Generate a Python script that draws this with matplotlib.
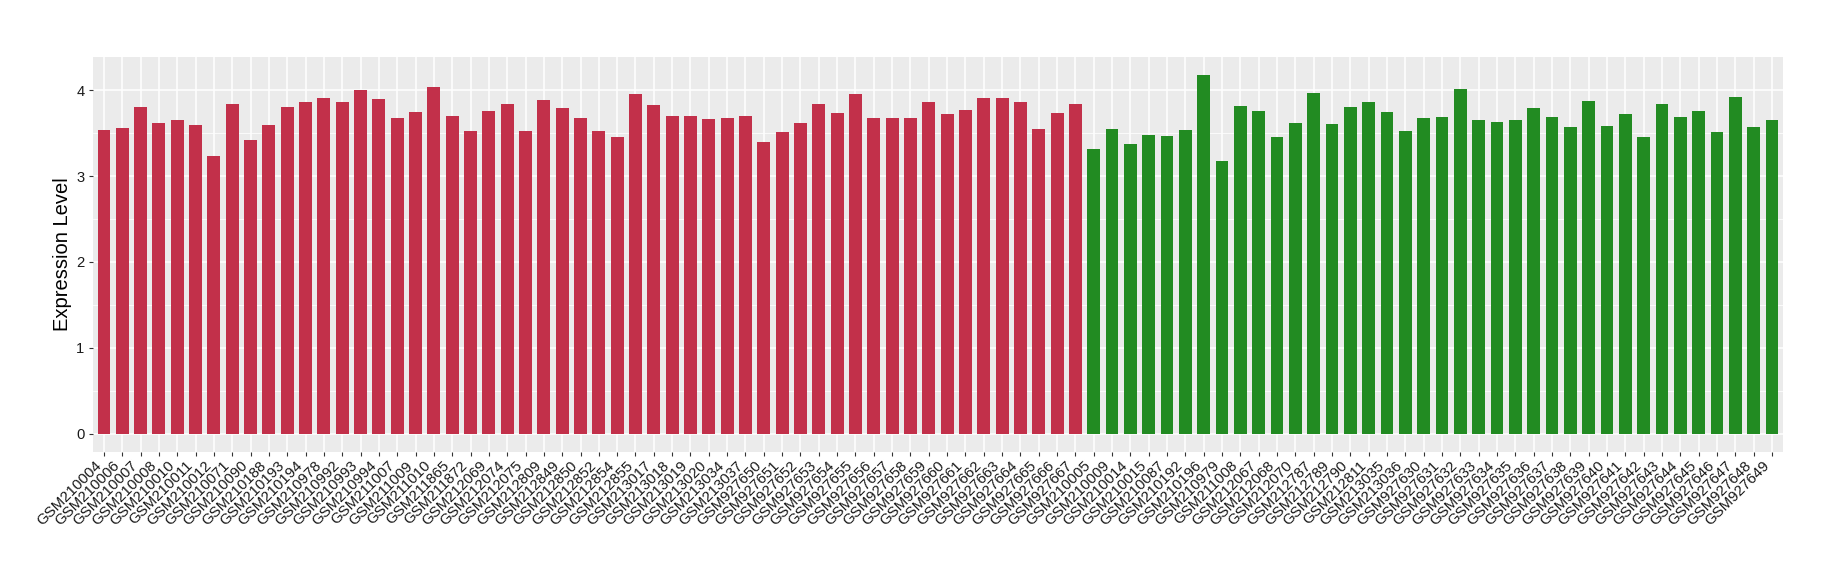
import matplotlib
matplotlib.use("Agg")
import matplotlib.pyplot as plt
from matplotlib.ticker import MultipleLocator
from matplotlib.transforms import ScaledTranslation

plt.rcParams['font.family'] = ['Liberation Sans', 'DejaVu Sans']

group1_samples = [
    "GSM210004", "GSM210006", "GSM210007", "GSM210008", "GSM210010", "GSM210011",
    "GSM210012", "GSM210071", "GSM210090", "GSM210188", "GSM210193", "GSM210194",
    "GSM210978", "GSM210992", "GSM210993", "GSM210994", "GSM211007", "GSM211009",
    "GSM211010", "GSM211865", "GSM211872", "GSM212069", "GSM212074", "GSM212075",
    "GSM212809", "GSM212849", "GSM212850", "GSM212852", "GSM212854", "GSM212855",
    "GSM213017", "GSM213018", "GSM213019", "GSM213020", "GSM213034", "GSM213037",
    "GSM927650", "GSM927651", "GSM927652", "GSM927653", "GSM927654", "GSM927655",
    "GSM927656", "GSM927657", "GSM927658", "GSM927659", "GSM927660", "GSM927661",
    "GSM927662", "GSM927663", "GSM927664", "GSM927665", "GSM927666", "GSM927667",
]
group1_values = [
    3.54, 3.56, 3.80, 3.62, 3.65, 3.59, 3.23, 3.84, 3.42, 3.59, 3.80, 3.86,
    3.91, 3.86, 4.00, 3.90, 3.67, 3.75, 4.04, 3.70, 3.52, 3.76, 3.84, 3.53,
    3.89, 3.79, 3.67, 3.52, 3.46, 3.96, 3.83, 3.70, 3.70, 3.66, 3.68, 3.70,
    3.40, 3.51, 3.62, 3.84, 3.73, 3.96, 3.68, 3.68, 3.67, 3.86, 3.72, 3.77,
    3.91, 3.91, 3.86, 3.55, 3.73, 3.84,
]

group2_samples = [
    "GSM210005", "GSM210009", "GSM210014", "GSM210015", "GSM210087", "GSM210192",
    "GSM210196", "GSM210979", "GSM211008", "GSM212067", "GSM212068", "GSM212070",
    "GSM212787", "GSM212789", "GSM212790", "GSM212811", "GSM213035", "GSM213036",
    "GSM927630", "GSM927631", "GSM927632", "GSM927633", "GSM927634", "GSM927635",
    "GSM927636", "GSM927637", "GSM927638", "GSM927639", "GSM927640", "GSM927641",
    "GSM927642", "GSM927643", "GSM927644", "GSM927645", "GSM927646", "GSM927647",
    "GSM927648", "GSM927649",
]
group2_values = [
    3.31, 3.55, 3.37, 3.48, 3.47, 3.54, 4.18, 3.17, 3.82, 3.76, 3.46, 3.62,
    3.97, 3.61, 3.80, 3.86, 3.74, 3.53, 3.68, 3.69, 4.01, 3.65, 3.63, 3.65,
    3.79, 3.69, 3.57, 3.87, 3.58, 3.72, 3.46, 3.84, 3.69, 3.76, 3.51, 3.92,
    3.57, 3.65,
]

y_label = "Expression Level"
color1 = "#C2304A"
color2 = "#228B22"

samples = group1_samples + group2_samples
values = group1_values + group2_values
colors = [color1] * len(group1_samples) + [color2] * len(group2_samples)

fig = plt.figure(figsize=(18.4, 5.8), dpi=100)
ax = fig.add_axes([0.0505, 0.2212, 0.9185, 0.681])
ax.set_facecolor("#EBEBEB")

x = list(range(len(samples)))
ax.bar(x, values, width=0.7, color=colors, zorder=3)

vmax = max(values)
ax.set_xlim(-0.6, len(samples) - 1 + 0.6)
ax.set_ylim(-0.05 * vmax, vmax * 1.05)

ax.yaxis.set_major_locator(MultipleLocator(1))
ax.yaxis.set_minor_locator(MultipleLocator(0.5))
ax.grid(which="major", color="white", linewidth=1.1, zorder=0)
ax.grid(which="minor", axis="y", color="white", linewidth=0.55, zorder=0)
ax.set_axisbelow(True)

ax.set_xticks(x)
labels = ax.set_xticklabels(samples, rotation=45, ha="right", va="top", fontsize=10.8,
                            color="#1A1A1A")
offset = ScaledTranslation(5 / 100, 0, fig.dpi_scale_trans)
for lab in labels:
    lab.set_transform(lab.get_transform() + offset)

ax.tick_params(axis="y", which="major", labelsize=10.6, labelcolor="#1A1A1A",
               color="#333333", length=3, width=0.8, pad=3)
ax.tick_params(axis="x", which="major", color="#333333", length=3, width=0.8, pad=2)
ax.tick_params(axis="y", which="minor", length=0)

for s in ax.spines.values():
    s.set_visible(False)

ax.set_ylabel(y_label, fontsize=14.5, color="black", labelpad=3)

fig.savefig("out.png", dpi=100, facecolor="white")
